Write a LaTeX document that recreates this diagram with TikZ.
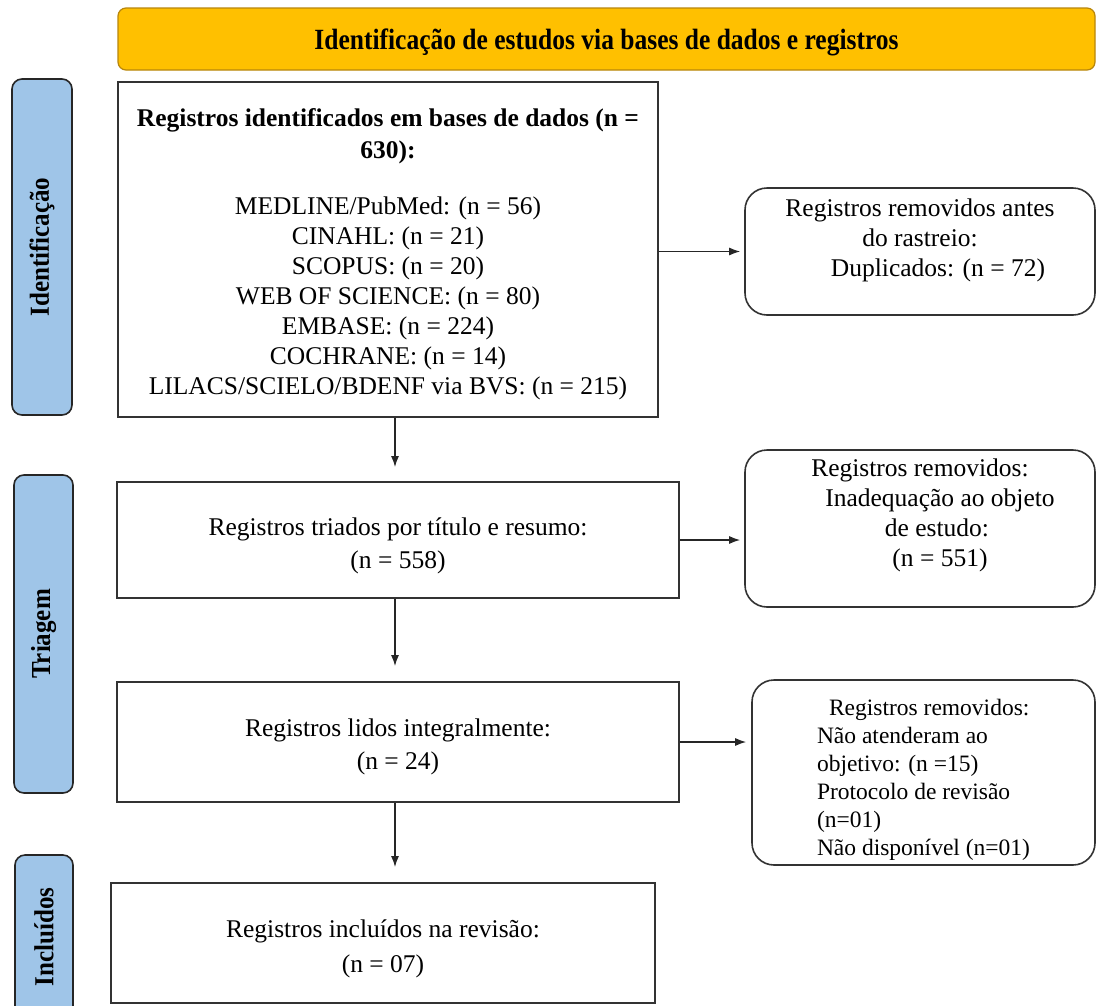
\documentclass[tikz,border=0pt]{standalone}
\usepackage{fontspec}
\setmainfont{Liberation Serif}
\usetikzlibrary{arrows.meta,calc}
\definecolor{banfill}{HTML}{FFC000}
\definecolor{banline}{HTML}{B8860B}
\definecolor{sidefill}{HTML}{9FC5E8}
\definecolor{boxline}{HTML}{333333}
\tikzset{
  banner/.style={draw=banline, line width=1.2pt, fill=banfill, rounded corners=8pt,
    minimum width=977pt, minimum height=62pt, inner sep=0pt},
  bantext/.style={inner sep=0pt, font=\fontsize{25.5}{30}\selectfont\bfseries},
  side/.style={draw=black!85, line width=1.6pt, fill=sidefill, rounded corners=10pt,
    inner sep=0pt},
  sidetext/.style={rotate=90, inner sep=0pt, font=\fontsize{25}{30}\selectfont\bfseries},
  mainbox/.style={draw=boxline, line width=1.8pt, fill=white, inner sep=0pt},
  sidebox/.style={draw=boxline, line width=1.6pt, fill=white, rounded corners=22pt,
    inner sep=0pt},
  txt/.style={inner sep=0pt, align=center, font=\fontsize{25.5}{30}\selectfont},
  arr/.style={draw=black!85, line width=1.4pt, -{Latex[length=11pt,width=8pt]}},
}
\begin{document}
\begin{tikzpicture}[x=1pt,y=-1pt]
\useasboundingbox (0,0) rectangle (1098,1005);
\clip (0,0) rectangle (1098,1005);
\coordinate (ax) at (395,0);
% banner
\node[banner] (ban) at (606.5,39) {};
\node[bantext] (bant) at ([yshift=-3pt]ban.center) {\scalebox{1}[1.15]{Identificação de estudos via bases de dados e registros}};
% side labels
\node[side, minimum width=60pt, minimum height=336pt] (sid) at (42,247) {};
\node[sidetext] (sidt) at (sid.center) {\scalebox{1}[1.1]{Identificação}};
\node[side, minimum width=59pt, minimum height=318pt] (stri) at (43.5,634) {};
\node[sidetext] (strit) at (stri.center) {\scalebox{1}[1.1]{Triagem}};
\node[side, minimum width=58pt, minimum height=170pt] (sinc) at (44,940) {};
\node[sidetext] (sinct) at (44,937) {\scalebox{1}[1.1]{Incluídos}};
% main boxes
\node[mainbox, minimum width=540pt, minimum height=335pt] (b1) at (388,249.5) {};
\node[txt] (b1t) at ([yshift=-5pt]b1.center) {%
  \textbf{Registros identificados em bases de dados (n =}\\[2pt]
  \textbf{630):}\\[26pt]
  MEDLINE/PubMed: (n = 56)\\
  CINAHL: (n = 21)\\
  SCOPUS: (n = 20)\\
  WEB OF SCIENCE: (n = 80)\\
  EMBASE: (n = 224)\\
  COCHRANE: (n = 14)\\
  LILACS/SCIELO/BDENF via BVS: (n = 215)};
\node[mainbox, minimum width=562pt, minimum height=116pt] (b2) at (398,540) {};
\node[txt] (b2t) at ([yshift=-6pt]b2.center) {Registros triados por título e resumo:\\[3pt] (n = 558)};
\node[mainbox, minimum width=562pt, minimum height=120pt] (b3) at (398,742) {};
\node[txt] (b3t) at ([yshift=-5pt]b3.center) {Registros lidos integralmente:\\[3pt] (n = 24)};
\node[mainbox, minimum width=544pt, minimum height=120pt] (b4) at (383,943) {};
\node[txt] (b4t) at ([yshift=-6pt]b4.center) {Registros incluídos na revisão:\\[5pt] (n = 07)};
% right boxes
\node[sidebox, minimum width=350pt, minimum height=127pt] (r1) at (920,251.5) {};
\node[txt] (r1t) at ([yshift=11pt]r1.center) {%
  Registros removidos antes\\ do rastreio:\\ \hspace*{36pt}Duplicados: (n = 72)};
\node[sidebox, minimum width=350pt, minimum height=157pt] (r2) at (920,528.5) {};
\node[txt] (r2t) at ([yshift=13pt]r2.center) {%
  Registros removidos:\\ \hspace*{40pt}Inadequação ao objeto\\ \hspace*{34pt}de estudo:\\ \hspace*{40pt}(n = 551)};
\node[sidebox, minimum width=343pt, minimum height=185pt] (r3) at (923.5,772.5) {};
\node[txt, align=left, font=\fontsize{23.5}{28}\selectfont] (r3t) at ([yshift=-7pt]r3.center) {%
  \hspace*{12pt}Registros removidos:\\ Não atenderam ao\\ objetivo: (n =15)\\ Protocolo de revisão\\ (n=01)\\ Não disponível (n=01)};
% connectors
\draw[arr, shorten >=14pt] (b1.south -| ax) -- (b2.north -| ax);
\draw[arr, shorten >=15pt] (b2.south -| ax) -- (b3.north -| ax);
\draw[arr, shorten >=15pt] (b3.south -| ax) -- (b4.north -| ax);
\draw[arr, shorten >=4pt] (b1.east |- r1.west) -- (r1.west);
\draw[arr, shorten >=4pt] (b2.east) -- (b2.east -| r2.west);
\draw[arr, shorten >=5pt] (b3.east) -- (b3.east -| r3.west);
\end{tikzpicture}
\end{document}
